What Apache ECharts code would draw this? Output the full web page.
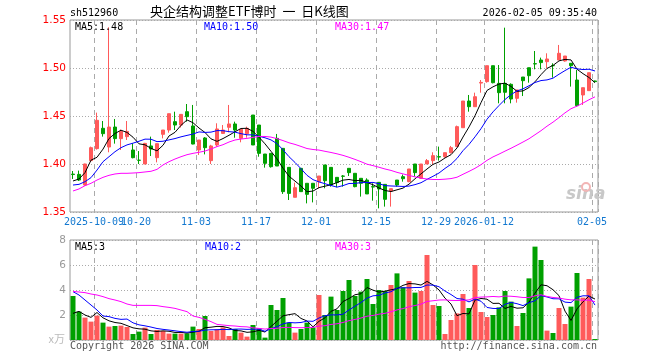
<!DOCTYPE html>
<html><head><meta charset="utf-8">
<script src="https://cdn.jsdelivr.net/npm/echarts@6/dist/echarts.min.js"></script>
<style>html,body{margin:0;padding:0;background:#fff}#c{width:660px;height:360px}</style>
</head><body><div id="c"></div>
<script>
const categories = [
'2025-09-25','2025-09-26','2025-09-29','2025-09-30',
'2025-10-09','2025-10-10','2025-10-13','2025-10-14','2025-10-15','2025-10-16','2025-10-17',
'2025-10-20','2025-10-21','2025-10-22','2025-10-23','2025-10-24','2025-10-27','2025-10-28','2025-10-29','2025-10-30','2025-10-31',
'2025-11-03','2025-11-04','2025-11-05','2025-11-06','2025-11-07','2025-11-10','2025-11-11','2025-11-12','2025-11-13','2025-11-14',
'2025-11-17','2025-11-18','2025-11-19','2025-11-20','2025-11-21','2025-11-24','2025-11-25','2025-11-26','2025-11-27','2025-11-28',
'2025-12-01','2025-12-02','2025-12-03','2025-12-04','2025-12-05','2025-12-08','2025-12-09','2025-12-10','2025-12-11','2025-12-12',
'2025-12-15','2025-12-16','2025-12-17','2025-12-18','2025-12-19','2025-12-22','2025-12-23','2025-12-24','2025-12-25','2025-12-26',
'2025-12-29','2025-12-30','2025-12-31','2026-01-05','2026-01-06','2026-01-07','2026-01-08','2026-01-09',
'2026-01-12','2026-01-13','2026-01-14','2026-01-15','2026-01-16','2026-01-19','2026-01-20','2026-01-21','2026-01-22','2026-01-23',
'2026-01-26','2026-01-27','2026-01-28','2026-01-29','2026-01-30','2026-02-02','2026-02-03','2026-02-04','2026-02-05'];

const opens = [1.3895,1.3892,1.3781,1.4035,1.4160,1.4372,1.4177,1.4385,1.4264,1.4285,
1.4146,1.4040,1.4000,1.4188,1.4066,1.4309,1.4354,1.4441,1.4406,1.4545,
1.4396,1.4146,1.4271,1.4035,1.4198,1.4319,1.4382,1.4417,1.4267,1.4316,
1.4510,1.4406,1.4104,1.4111,1.4267,1.4163,1.3965,1.3653,1.3955,1.3799,
1.3799,1.3816,1.3990,1.3965,1.3861,1.3875,1.3955,1.3903,1.3851,1.3833,
1.3764,1.3809,1.3788,1.3719,1.3833,1.3868,1.3816,1.4000,1.3851,1.4000,
1.4035,1.4076,1.4076,1.4118,1.4181,1.4378,1.4656,1.4597,1.4843,1.4858,
1.5024,1.4840,1.4840,1.4830,1.4684,1.4906,1.5003,1.5045,1.5083,1.5066,
1.5025,1.5083,1.5073,1.5049,1.4875,1.4719,1.4764,1.4865];
const closes = [1.3890,1.3833,1.4000,1.4170,1.4455,1.4316,1.4385,1.4264,1.4340,1.4340,
1.4066,1.4038,1.4215,1.4156,1.4212,1.4354,1.4524,1.4406,1.4517,1.4493,
1.4208,1.4250,1.4170,1.4188,1.4365,1.4354,1.4417,1.4354,1.4361,1.4372,
1.4198,1.4111,1.4007,1.3972,1.3979,1.3712,1.3694,1.3753,1.3712,1.3684,
1.3747,1.3875,1.3826,1.3781,1.3806,1.3872,1.3910,1.3764,1.3799,1.3688,
1.3760,1.3740,1.3632,1.3743,1.3781,1.3847,1.3948,1.3910,1.4000,1.4035,
1.4087,1.4073,1.4118,1.4170,1.4389,1.4656,1.4597,1.4701,1.4850,1.5024,
1.4847,1.4743,1.4747,1.4677,1.4771,1.4868,1.4920,1.5042,1.5056,1.5094,
1.5024,1.5153,1.5125,1.5024,1.4608,1.4795,1.4951,1.4858];
const lows = [1.3844,1.3823,1.3775,1.4024,1.4150,1.4285,1.4122,1.4212,1.4146,1.4250,
1.4059,1.4000,1.4000,1.4083,1.4017,1.4267,1.4326,1.4354,1.4380,1.4441,
1.4205,1.4094,1.4100,1.4000,1.4180,1.4313,1.4330,1.4274,1.4226,1.4274,
1.4198,1.4076,1.3962,1.3962,1.3979,1.3688,1.3625,1.3653,1.3712,1.3590,
1.3600,1.3747,1.3747,1.3764,1.3757,1.3764,1.3875,1.3757,1.3660,1.3688,
1.3618,1.3538,1.3556,1.3556,1.3764,1.3816,1.3810,1.3868,1.3844,1.4000,
1.3997,1.4035,1.4066,1.4111,1.4181,1.4378,1.4545,1.4597,1.4743,1.4847,
1.4840,1.4632,1.4632,1.4632,1.4639,1.4708,1.4847,1.4986,1.4986,1.4997,
1.4900,1.5083,1.5066,1.4806,1.4597,1.4615,1.4764,1.4851];
const highs = [1.3927,1.3931,1.4003,1.4181,1.4535,1.4448,1.5424,1.4469,1.4360,1.4448,
1.4215,1.4135,1.4220,1.4285,1.4215,1.4354,1.4524,1.4545,1.4520,1.4625,
1.4615,1.4250,1.4280,1.4200,1.4424,1.4406,1.4615,1.4441,1.4361,1.4389,
1.4510,1.4406,1.4104,1.4111,1.4313,1.4163,1.3965,1.3806,1.3955,1.3799,
1.3799,1.3875,1.3990,1.3965,1.3861,1.3885,1.3955,1.3903,1.3851,1.3851,
1.3799,1.3809,1.3788,1.3743,1.3833,1.3890,1.3948,1.4000,1.4000,1.4052,
1.4122,1.4181,1.4118,1.4188,1.4400,1.4656,1.4719,1.4743,1.4875,1.5024,
1.5024,1.5031,1.5420,1.4840,1.4771,1.4906,1.5003,1.5177,1.5108,1.5153,
1.5049,1.5240,1.5125,1.5049,1.4979,1.4795,1.4951,1.4868];
const volumes = [3.52,2.27,1.79,1.47,1.95,1.39,1.07,1.12,1.15,1.04,
0.48,0.67,0.99,0.48,0.80,0.72,0.51,0.51,0.51,0.53,
1.07,0.88,1.92,0.72,0.85,1.01,0.32,0.88,0.59,0.27,
1.20,0.93,0.19,2.80,2.40,3.36,1.39,0.59,0.88,1.39,
1.01,3.60,2.00,3.47,2.40,3.92,4.80,3.52,3.87,4.88,
2.88,4.00,3.92,4.40,5.33,4.21,4.72,3.79,3.92,6.80,
2.80,2.72,0.48,1.60,2.13,3.68,2.56,6.00,2.24,1.84,
2.00,2.61,3.92,3.07,1.12,2.16,4.93,7.47,6.40,0.75,
0.56,2.56,1.28,2.67,5.36,3.39,4.88,0.08];

// moving-average values before enough in-chart history exists
const ma5Head = [1.3823,1.3844,1.3910,1.4040];
const ma10Head = [1.3781,1.3788,1.3816,1.3858,1.3937,1.4024,1.4076,1.4128,1.4170];
const ma30Head = [1.3719,1.3740,1.3774,1.3799,1.3833,1.3861,1.3882,1.3896,1.3903,1.3903,
1.3906,1.3910,1.3917,1.3924,1.3944,1.3990,1.4024,1.4052,1.4076,1.4097,
1.4111,1.4122,1.4135,1.4156,1.4181,1.4201,1.4229,1.4250,1.4260];
const vma5Head = [2.13,2.29,2.00,1.81];
const vma10Head = [3.87,3.60,3.20,2.80,2.40,1.92,1.87,1.73,1.65];
const vma30Head = [3.89,3.84,3.79,3.68,3.60,3.47,3.31,3.20,3.07,2.88,
2.77,2.77,2.77,2.77,2.75,2.67,2.61,2.53,2.40,2.27,
1.92,1.81,1.65,1.47,1.25,1.20,1.15,1.12,1.07];

const tickIndex = [4,11,21,31,41,51,61,69,87];
const tickLabels = ['2025-10-09','10-20','11-03','11-17','12-01','12-15','12-29','2026-01-12','02-05'];
const priceLegend = ['MA5:1.48','MA10:1.50','MA30:1.47'];
const volLegend = ['MA5:3','MA10:2','MA30:3'];

function movingAvg(vals, n, head){
  return vals.map((v,i)=>{
    if(i < head.length) return head[i];
    let s=0; for(let k=i-n+1;k<=i;k++) s+=vals[k];
    return +(s/n).toFixed(4);
  });
}
const ma5 = movingAvg(closes,5,ma5Head), ma10 = movingAvg(closes,10,ma10Head), ma30 = movingAvg(closes,30,ma30Head);
const vma5 = movingAvg(volumes,5,vma5Head), vma10 = movingAvg(volumes,10,vma10Head), vma30 = movingAvg(volumes,30,vma30Head);

const UP='#ff5a5a', DOWN='#00a000';
const mono='DejaVu Sans Mono';
const kData = opens.map((o,i)=>[o,closes[i],lows[i],highs[i]]);
const volData = volumes.map((v,i)=>({value:v,itemStyle:{color: closes[i]>opens[i]?UP:DOWN}}));
const isTick = (i)=>tickIndex.indexOf(i)>=0;
const firstTick = tickIndex[0];

function txt(text,pos,color,size,family){
  return Object.assign({text:text,padding:0,textStyle:{color:color,fontSize:size||10,fontFamily:family||mono,fontWeight:'normal'}},pos);
}
function lineS(data,color,xi,yi){
  return {type:'line',data:data,xAxisIndex:xi,yAxisIndex:yi,symbol:'none',silent:true,
    lineStyle:{color:color,width:1},z:5};
}
const labelStyle = {color:'#1278d0',fontFamily:mono,fontSize:10,margin:5,padding:[0,6,0,0],hideOverlap:false};
const chart = echarts.init(document.getElementById('c'));
chart.setOption({
  animation:false,
  backgroundColor:'#fff',
  title:[
    txt('sh512960',{left:70,top:8},'#000',10),
    txt('央企结构调整ETF博时  一  日K线图',{left:150,top:5},'#000',13,'Noto Sans CJK SC'),
    txt('2026-02-05 09:35:40',{right:63,top:8},'#000',10),
    txt(priceLegend[0],{left:75,top:22},'#000',10),
    txt(priceLegend[1],{left:204,top:22},'#0000ff',10),
    txt(priceLegend[2],{left:335,top:22},'#ff00ff',10),
    txt(volLegend[0],{left:75,top:242},'#000',10),
    txt(volLegend[1],{left:205,top:242},'#0000ff',10),
    txt(volLegend[2],{left:335,top:242},'#ff00ff',10),
    txt('Copyright 2026 SINA.COM',{left:70,top:341},'#555',10),
    txt('http://finance.sina.com.cn',{right:63,top:341},'#555',10),
    txt('x万',{right:595,top:333},'#bbb',11,'Noto Sans CJK SC')
  ],
  graphic:[
    {type:'text',left:566,top:186,z:1,style:{text:'sina',font:'italic bold 17px "DejaVu Sans"',fill:'#c8c8c8'}},
    {type:'circle',shape:{cx:586,cy:187,r:4},z:1,style:{fill:'none',stroke:'#f2b5b5',lineWidth:2}}
  ],
  grid:[
    {left:70,top:20,width:528,height:192,show:true,borderColor:'#999',borderWidth:1,backgroundColor:'transparent'},
    {left:70,top:240,width:528,height:100,show:true,borderColor:'#999',borderWidth:1,backgroundColor:'transparent'}
  ],
  xAxis:[
    {type:'category',gridIndex:0,data:categories,boundaryGap:true,
      axisLine:{show:false},axisTick:{show:false},
      axisLabel:Object.assign({interval:(i)=>isTick(i)&&i!==firstTick,formatter:(v,i)=>tickLabels[tickIndex.indexOf(i)]||''},labelStyle),
      splitLine:{show:true,interval:(i)=>isTick(i),lineStyle:{color:'#aaa',type:[5,4],width:1}}},
    {type:'category',gridIndex:1,data:categories,boundaryGap:true,
      axisLine:{show:false},axisTick:{show:false},axisLabel:{show:false},
      splitLine:{show:true,interval:(i)=>isTick(i),lineStyle:{color:'#aaa',type:[5,4],width:1}}},
    {type:'category',gridIndex:0,data:categories,boundaryGap:true,position:'bottom',
      axisLine:{show:false},axisTick:{show:false},splitLine:{show:false},
      axisLabel:Object.assign({interval:(i)=>i===firstTick,formatter:(v,i)=>i===firstTick?tickLabels[0]:''},labelStyle)}
  ],
  yAxis:[
    {type:'value',gridIndex:0,min:1.35,max:1.55,interval:0.05,scale:true,
      axisLine:{show:false},axisTick:{show:false},
      axisLabel:{color:'#ff0000',fontFamily:'DejaVu Sans',fontSize:10.5,margin:4,formatter:(v)=>v.toFixed(2)},
      splitLine:{show:true,lineStyle:{color:'#aaa',type:[1,2],width:1}}},
    {type:'value',gridIndex:1,min:0,max:8,interval:2,
      axisLine:{show:false},axisTick:{show:false},
      axisLabel:{color:'#999',fontFamily:'DejaVu Sans',fontSize:10.5,margin:4,formatter:(v)=>v===0?'':String(v)},
      splitLine:{show:true,lineStyle:{color:'#aaa',type:[1,2],width:1}}}
  ],
  series:[
    {type:'candlestick',data:kData,xAxisIndex:0,yAxisIndex:0,barWidth:4,silent:true,z:3,
      itemStyle:{color:UP,color0:DOWN,borderColor:UP,borderColor0:DOWN,borderWidth:1}},
    lineS(ma5,'#000',0,0), lineS(ma10,'#0000ff',0,0), lineS(ma30,'#ff00ff',0,0),
    {type:'bar',data:volData,xAxisIndex:1,yAxisIndex:1,barWidth:5,silent:true,z:3},
    lineS(vma5,'#000',1,1), lineS(vma10,'#0000ff',1,1), lineS(vma30,'#ff00ff',1,1)
  ]
});
</script></body></html>
